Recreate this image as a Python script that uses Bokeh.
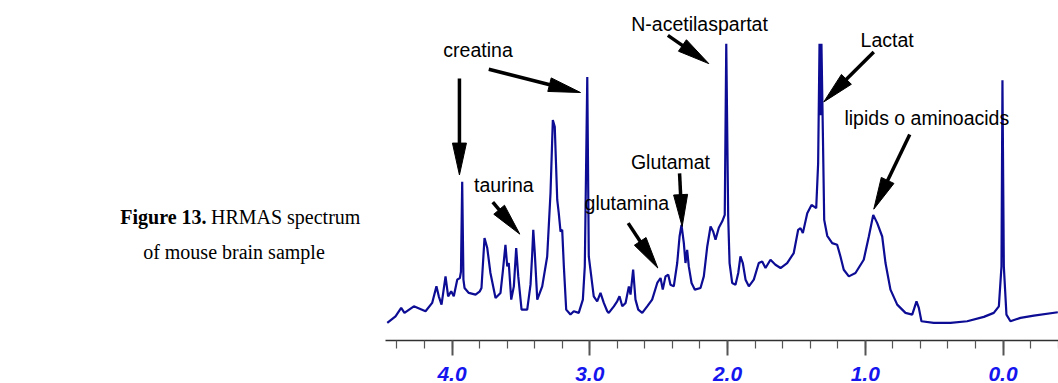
from bokeh.plotting import figure
from bokeh.models import Range1d, SingleIntervalTicker, PrintfTickFormatter, ColumnDataSource
from bokeh.core.properties import value
from bokeh.embed import file_html
from bokeh.resources import INLINE
import math

# ---------------- data ----------------
ppm = [4.470, 4.410, 4.369, 4.345, 4.277, 4.192, 4.144, 4.113, 4.096, 4.076,
       4.047, 4.028, 4.006, 3.987, 3.962, 3.943, 3.935, 3.926, 3.917, 3.909,
       3.878, 3.829, 3.798, 3.786, 3.764, 3.744, 3.721, 3.684, 3.648, 3.631,
       3.612, 3.599, 3.588, 3.570, 3.551, 3.534, 3.519, 3.495, 3.454, 3.430,
       3.418, 3.410, 3.399, 3.381, 3.345, 3.309, 3.285, 3.268, 3.254, 3.236,
       3.225, 3.212, 3.200, 3.188, 3.171, 3.140, 3.116, 3.080, 3.050, 3.036,
       3.018, 3.007, 2.995, 2.971, 2.946, 2.922, 2.898, 2.873, 2.862, 2.825,
       2.801, 2.784, 2.764, 2.740, 2.716, 2.704, 2.685, 2.668, 2.648, 2.619,
       2.583, 2.547, 2.510, 2.486, 2.470, 2.450, 2.430, 2.414, 2.390, 2.365,
       2.348, 2.334, 2.317, 2.305, 2.293, 2.281, 2.261, 2.237, 2.196, 2.172,
       2.147, 2.123, 2.104, 2.087, 2.063, 2.038, 2.020, 2.009, 1.995, 1.985,
       1.966, 1.942, 1.922, 1.906, 1.889, 1.869, 1.845, 1.809, 1.773, 1.748,
       1.724, 1.688, 1.652, 1.615, 1.567, 1.519, 1.487, 1.470, 1.453, 1.421,
       1.390, 1.356, 1.342, 1.332, 1.325, 1.318, 1.308, 1.298, 1.276, 1.240,
       1.204, 1.180, 1.156, 1.119, 1.071, 1.011, 0.974, 0.942, 0.913, 0.877,
       0.853, 0.817, 0.768, 0.708, 0.659, 0.628, 0.611, 0.592, 0.502, 0.381,
       0.260, 0.139, 0.067, 0.030, 0.011, 0.004, -0.006, -0.025, -0.054, -0.127,
       -0.224, -0.398]
intensity = [17.7, 24.3, 32.7, 27.7, 34.3, 29.3, 37.7, 54.3, 44.3, 36.0,
             64.3, 44.3, 49.3, 44.3, 61.0, 62.7, 69.0, 159.3, 61.0, 52.7,
             47.7, 46.0, 49.3, 52.7, 102.7, 92.7, 67.7, 42.7, 47.7, 69.3,
             96.0, 74.3, 77.7, 41.0, 54.3, 92.7, 64.3, 31.0, 31.0, 56.0,
             86.0, 111.0, 87.7, 41.0, 54.3, 84.3, 147.7, 221.0, 214.3, 141.0,
             127.7, 109.3, 111.0, 74.3, 31.0, 26.0, 29.3, 27.7, 41.0, 74.3,
             264.3, 84.3, 71.0, 44.3, 39.3, 47.7, 37.7, 29.3, 27.7, 34.3,
             39.3, 44.3, 34.3, 37.7, 54.3, 46.0, 71.0, 41.0, 31.0, 27.7,
             34.3, 41.0, 57.7, 62.7, 51.0, 64.3, 66.0, 56.0, 54.3, 77.7,
             104.3, 116.0, 97.7, 77.7, 91.0, 74.3, 57.7, 51.0, 52.7, 64.3,
             94.3, 114.3, 109.3, 101.0, 113.0, 119.5, 126.0, 297.7, 124.3, 77.7,
             57.7, 56.0, 67.7, 84.3, 77.7, 61.0, 54.3, 61.0, 77.7, 79.3,
             72.7, 81.0, 76.0, 72.7, 77.7, 87.7, 111.0, 112.7, 107.7, 127.7,
             136.0, 132.7, 177.7, 297.7, 226.0, 297.7, 211.0, 121.0, 105.0, 97.7,
             96.0, 84.3, 71.0, 64.3, 67.7, 81.0, 104.3, 126.0, 117.7, 104.3,
             77.7, 51.0, 36.0, 27.7, 26.0, 39.3, 32.7, 19.3, 17.7, 17.7,
             19.3, 23.7, 27.7, 34.3, 74.3, 261.0, 74.3, 26.0, 19.3, 22.7,
             25.0, 28.3]

tick_interval = 1.0

labels = ["creatina", "N-acetilaspartat", "taurina", "Glutamat", "glutamina",
          "Lactat", "lipids o aminoacids"]
label_ppm = [3.811, 2.203, 3.624, 2.414, 2.731, 0.841, 0.553]
label_int = [291.0, 317.7, 156.0, 179.3, 137.7, 301.0, 222.7]

# arrows: tail (ppm, intensity) -> tip (ppm, intensity)
arrow_x0 = [3.946, 3.733, 2.433, 3.704, 2.348, 2.721, 0.938, 0.677]
arrow_y0 = [262.7, 272.0, 306.0, 138.7, 167.7, 117.7, 289.3, 206.7]
arrow_x1 = [3.946, 3.067, 2.136, 3.508, 2.329, 2.506, 1.301, 0.938]
arrow_y1 = [166.0, 248.7, 277.7, 106.7, 114.3, 72.7, 239.3, 131.7]

# ---------------- figure ----------------
W, H = 1058, 383
BOTTOM = 42
X_LEFT, X_RIGHT = 7.2777, -0.4029
Y_LO, Y_HI = 0.0, 341.0

p = figure(width=W, height=H, x_range=Range1d(X_LEFT, X_RIGHT),
           y_range=Range1d(Y_LO, Y_HI), output_backend="svg",
           toolbar_location=None, y_axis_location=None,
           min_border_left=0, min_border_right=0, min_border_top=0,
           min_border_bottom=BOTTOM, outline_line_color=None,
           background_fill_color="white", border_fill_color="white")
p.grid.visible = False

ax = p.xaxis[0]
ax.bounds = (X_RIGHT, 4.483)
ax.ticker = SingleIntervalTicker(interval=tick_interval, num_minor_ticks=5)
ax.formatter = PrintfTickFormatter(format="%.1f")
ax.axis_line_color = "#303030"
ax.axis_line_width = 1.5
ax.major_tick_line_color = "#555555"
ax.major_tick_line_width = 2
ax.major_tick_in = 0
ax.major_tick_out = 15
ax.minor_tick_line_color = "#555555"
ax.minor_tick_line_width = 1.2
ax.minor_tick_in = 0
ax.minor_tick_out = 8
ax.major_label_standoff = 11
ax.major_label_text_line_height = 0.6
ax.major_label_text_font = "Liberation Sans"
ax.major_label_text_font_style = "bold italic"
ax.major_label_text_font_size = "21px"
ax.major_label_text_color = "#1515ee"

# spectrum
p.line(ppm, intensity, line_color="#0c0c94", line_width=2.2)

# arrows: shaft + narrow filled head (head geometry defined in screen pixels)
HEAD_LEN, HEAD_HALF = 32.0, 7.0
frame_w, frame_h = W, H - BOTTOM
sx_per = frame_w / (X_RIGHT - X_LEFT)     # px per ppm (negative)
sy_per = frame_h / (Y_HI - Y_LO)           # px per intensity unit

shaft_x0, shaft_y0, shaft_x1, shaft_y1 = [], [], [], []
head_xs, head_ys = [], []
for x0, y0, x1, y1 in zip(arrow_x0, arrow_y0, arrow_x1, arrow_y1):
    dx = (x1 - x0) * sx_per
    dy = (y1 - y0) * sy_per
    L = math.hypot(dx, dy)
    ux, uy = dx / L, dy / L
    bx, by = -ux * HEAD_LEN, -uy * HEAD_LEN          # base center offset from tip
    px_, py_ = -uy * HEAD_HALF, ux * HEAD_HALF       # perpendicular
    pts = [(0, 0), (bx + px_, by + py_), (bx - px_, by - py_)]
    head_xs.append([x1 + a / sx_per for a, b in pts])
    head_ys.append([y1 + b / sy_per for a, b in pts])
    shaft_x0.append(x0)
    shaft_y0.append(y0)
    shaft_x1.append(x1 + (bx * 0.8) / sx_per)
    shaft_y1.append(y1 + (by * 0.8) / sy_per)

p.segment(shaft_x0, shaft_y0, shaft_x1, shaft_y1, line_color="black", line_width=3.5)
p.patches(head_xs, head_ys, fill_color="black", line_color="black", line_width=1)

# peak labels
src = ColumnDataSource(dict(x=label_ppm, y=label_int, t=labels))
p.text("x", "y", text="t", source=src, text_font=value("Liberation Sans"),
       text_font_size="19.5px", text_align="center", text_baseline="middle",
       text_color="black")

# caption
p.text([5.782], [124.0], text=["Figure 13."], text_font=value("Liberation Serif"),
       text_font_size="20px", text_font_style="bold", text_align="right",
       text_baseline="middle", text_color="black")
p.text([5.750], [124.0], text=["HRMAS spectrum"], text_font=value("Liberation Serif"),
       text_font_size="20px", text_align="left", text_baseline="middle",
       text_color="black")
p.text([5.583], [89.0], text=["of mouse brain sample"], text_font=value("Liberation Serif"),
       text_font_size="20px", text_align="center", text_baseline="middle",
       text_color="black")

open("out.html", "w").write(file_html(p, INLINE))
